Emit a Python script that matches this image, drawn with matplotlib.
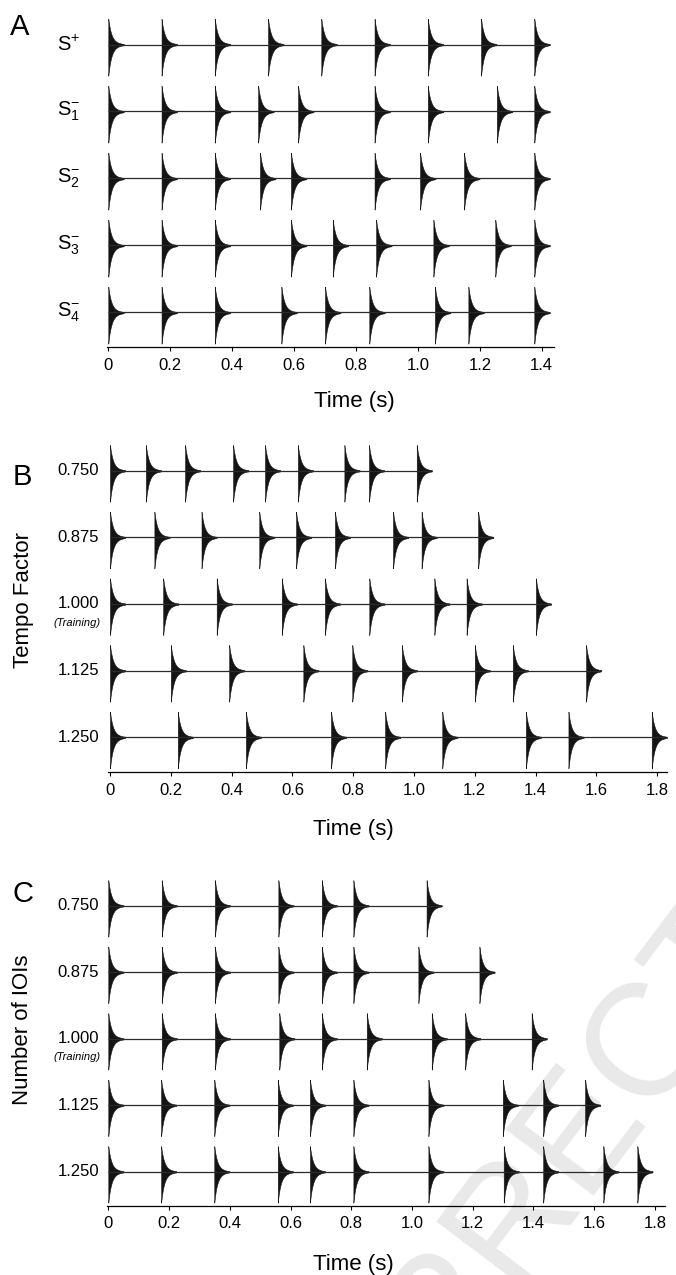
import numpy as np
import matplotlib
matplotlib.use("Agg")
import matplotlib.pyplot as plt
from matplotlib.transforms import blended_transform_factory

plt.rcParams['font.family'] = ['Liberation Sans', 'DejaVu Sans']
plt.rcParams['mathtext.fontset'] = 'custom'
plt.rcParams['mathtext.rm'] = 'Liberation Sans'
plt.rcParams['mathtext.it'] = 'Liberation Sans:italic'

# ---- data: onset times (s) of each click ----
labels_a = [r'$\mathregular{S^{+}}$', r'$\mathregular{S^{-}_{1}}$', r'$\mathregular{S^{-}_{2}}$',
            r'$\mathregular{S^{-}_{3}}$', r'$\mathregular{S^{-}_{4}}$']
onsets_a = [
    [0, 0.172, 0.344, 0.516, 0.688, 0.860, 1.032, 1.204, 1.376],
    [0, 0.172, 0.344, 0.484, 0.613, 0.860, 1.032, 1.255, 1.376],
    [0, 0.172, 0.344, 0.490, 0.590, 0.860, 1.007, 1.149, 1.376],
    [0, 0.172, 0.344, 0.590, 0.725, 0.865, 1.050, 1.250, 1.376],
    [0, 0.172, 0.344, 0.559, 0.700, 0.843, 1.055, 1.163, 1.376],
]

labels_b = ["0.750", "0.875", "1.000", "1.125", "1.250"]
onsets_b = [
    [0, 0.118, 0.247, 0.405, 0.510, 0.618, 0.771, 0.852, 1.009],
    [0, 0.146, 0.301, 0.491, 0.612, 0.740, 0.931, 1.025, 1.211],
    [0, 0.175, 0.351, 0.565, 0.707, 0.853, 1.067, 1.173, 1.401],
    [0, 0.200, 0.392, 0.636, 0.797, 0.960, 1.200, 1.325, 1.566],
    [0, 0.223, 0.447, 0.727, 0.905, 1.093, 1.368, 1.508, 1.782],
]

labels_c = ["0.750", "0.875", "1.000", "1.125", "1.250"]
onsets_c = [
    [0, 0.176, 0.351, 0.560, 0.703, 0.807, 1.048],
    [0, 0.176, 0.351, 0.560, 0.703, 0.807, 1.021, 1.222],
    [0, 0.176, 0.351, 0.563, 0.703, 0.851, 1.065, 1.175, 1.394],
    [0, 0.174, 0.349, 0.558, 0.664, 0.807, 1.054, 1.299, 1.432, 1.570],
    [0, 0.174, 0.349, 0.558, 0.664, 0.807, 1.054, 1.302, 1.432, 1.630, 1.742],
]

ticks_a = [0, 0.2, 0.4, 0.6, 0.8, 1.0, 1.2, 1.4]
ticklabels_a = ["0", "0.2", "0.4", "0.6", "0.8", "1.0", "1.2", "1.4"]
ticks_bc = [0, 0.2, 0.4, 0.6, 0.8, 1.0, 1.2, 1.4, 1.6, 1.8]
ticklabels_bc = ["0", "0.2", "0.4", "0.6", "0.8", "1.0", "1.2", "1.4", "1.6", "1.8"]

W, H = 676, 1275
fig = plt.figure(figsize=(W / 100, H / 100), dpi=100)


def make_panel(x0, pps, xmax, row0, step, spine, nrows, xmin=-0.005):
    # axes placed from pixel measurements of the reference
    top = row0 - 0.5 * step
    left = x0 + xmin * pps
    right = x0 + xmax * pps
    ax = fig.add_axes([left / W, 1 - spine / H, (right - left) / W, (spine - top) / H])
    ax.set_xlim(xmin, xmax)
    bottom_extra = (spine - row0 - (nrows - 1) * step) / step
    ax.set_ylim(-(nrows - 1) - bottom_extra, 0.5)
    ax.patch.set_alpha(0)
    for s in ['left', 'top', 'right']:
        ax.spines[s].set_visible(False)
    ax.spines['bottom'].set_linewidth(0.9)
    ax.set_yticks([])
    ax.tick_params(axis='x', direction='out', length=3, width=0.8,
                   labelsize=12, pad=4.5)
    return ax


def draw_row(ax, onsets, y):
    # click shape: sharp onset then fast decay
    t = np.linspace(0, 0.05, 250)
    env = 0.75 * np.exp(-t / 0.009) + 0.25 * np.exp(-t / 0.02)
    ax.plot([onsets[0], onsets[-1] + 0.045], [y, y], color='#2a2a2a', lw=0.9,
            solid_capstyle='butt')
    for t0 in onsets:
        ax.fill_between(t0 + t, y - 0.465 * env, y + 0.385 * env,
                        color='#141414', lw=0.4, clip_on=False)


# ---------------- panel A ----------------
ax_a = make_panel(108.3, 309.6, 1.44, 44.5, 67.0, 347.5, 5)
tr = blended_transform_factory(fig.transFigure, ax_a.transData)
for i, (lab, ons) in enumerate(zip(labels_a, onsets_a)):
    draw_row(ax_a, ons, -i)
    ax_a.text(57 / W, -i, lab, transform=tr, ha='left', va='center', fontsize=14.5)
ax_a.set_xticks(ticks_a)
ax_a.set_xticklabels(ticklabels_a)

# ---------------- panel B ----------------
ax_b = make_panel(110, 304, 1.832, 470.7, 66.65, 772.3, 5)
tr = blended_transform_factory(fig.transFigure, ax_b.transData)
for i, (lab, ons) in enumerate(zip(labels_b, onsets_b)):
    draw_row(ax_b, ons, -i)
    ax_b.text(99 / W, -i, lab, transform=tr, ha='right', va='center', fontsize=12)
ax_b.text(101 / W, -2.28, "(Training)", transform=tr, ha='right', va='center',
          fontsize=8, style='italic')
ax_b.set_xticks(ticks_bc)
ax_b.set_xticklabels(ticklabels_bc)

# ---------------- panel C ----------------
ax_c = make_panel(108.3, 303.7, 1.833, 905.7, 66.5, 1205.7, 5)
tr = blended_transform_factory(fig.transFigure, ax_c.transData)
for i, (lab, ons) in enumerate(zip(labels_c, onsets_c)):
    draw_row(ax_c, ons, -i)
    ax_c.text(99 / W, -i, lab, transform=tr, ha='right', va='center', fontsize=12)
ax_c.text(101 / W, -2.28, "(Training)", transform=tr, ha='right', va='center',
          fontsize=8, style='italic')
ax_c.set_xticks(ticks_bc)
ax_c.set_xticklabels(ticklabels_bc)

# axis titles and panel letters
fig.text(354 / W, 1 - 407 / H, "Time (s)", ha='center', va='baseline', fontsize=16)
fig.text(353 / W, 1 - 835 / H, "Time (s)", ha='center', va='baseline', fontsize=16)
fig.text(353 / W, 1 - 1270 / H, "Time (s)", ha='center', va='baseline', fontsize=16)
fig.text(23 / W, 1 - 600 / H, "Tempo Factor", rotation=90, ha='center', va='center', fontsize=16)
fig.text(23 / W, 1 - 1030 / H, "Number of IOIs", rotation=90, ha='center', va='center', fontsize=16)
fig.text(10 / W, 1 - 35 / H, "A", ha='left', va='baseline', fontsize=21)
fig.text(13 / W, 1 - 485 / H, "B", ha='left', va='baseline', fontsize=21)
fig.text(12 / W, 1 - 902 / H, "C", ha='left', va='baseline', fontsize=21)

# light watermark in the lower right corner (runs off the page as in the original)
fig.text(690 / W, 1 - 1000 / H, "UNCORRECTED PROOF", rotation=53, ha='center',
         va='center', fontsize=115, color='#e9e9e9', zorder=-1)

fig.savefig("out.png", dpi=100)
